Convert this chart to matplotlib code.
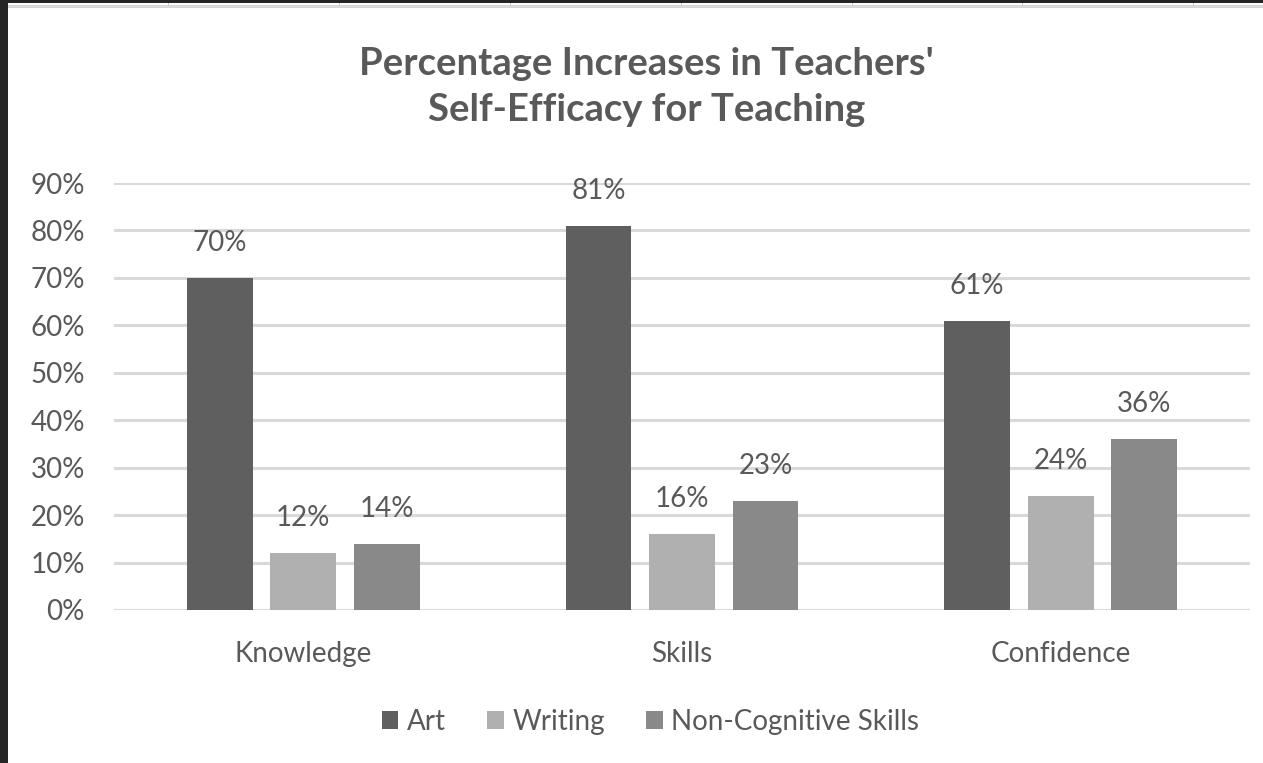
import numpy as np
import matplotlib.pyplot as plt
from matplotlib.patches import Rectangle
from matplotlib.ticker import PercentFormatter

plt.rcParams['font.family'] = ['Lato', 'DejaVu Sans']

categories = ['Knowledge', 'Skills', 'Confidence']
series_names = ['Art', 'Writing', 'Non-Cognitive Skills']
art = [70, 81, 61]
writing = [12, 16, 24]
non_cognitive = [14, 23, 36]
y_ticks = [0, 10, 20, 30, 40, 50, 60, 70, 80, 90]

colors = ['#5f5f5f', '#b0b0b0', '#898989']
text_gray = '#595959'

W, H = 1263, 763
fig = plt.figure(figsize=(W / 100, H / 100), dpi=100)
fig.patch.set_facecolor('white')

# spreadsheet window edge around the chart
fig.patches.append(Rectangle((0, 0), 8 / W, 1, transform=fig.transFigure,
                             facecolor='#262626', edgecolor='none', zorder=0))
fig.patches.append(Rectangle((0, 1 - 3 / H), 1, 3 / H, transform=fig.transFigure,
                             facecolor='#262626', edgecolor='none', zorder=0))
fig.patches.append(Rectangle((8 / W, 1 - 8 / H), 1, 3 / H, transform=fig.transFigure,
                             facecolor='#d9d9d9', edgecolor='none', zorder=0))
for cx in [168, 339, 510, 681, 852, 1022, 1193]:
    fig.patches.append(Rectangle((cx / W, 1 - 6 / H), 1 / W, 3 / H, transform=fig.transFigure,
                                 facecolor='#c8c8c8', edgecolor='none', zorder=0))

ax = fig.add_axes([114 / W, 1 - 610 / H, (1250 - 114) / W, (610 - 183) / H])

x = np.arange(len(categories))
step = 0.2205
width = 0.174
for i, (vals, name) in enumerate(zip([art, writing, non_cognitive], series_names)):
    pos = x + (i - 1) * step
    bars = ax.bar(pos, vals, width=width, color=colors[i], label=name, zorder=3)
    for b, v in zip(bars, vals):
        ax.annotate(f'{v}%', (b.get_x() + b.get_width() / 2, v),
                    xytext=(0, 25), textcoords='offset points',
                    ha='center', va='center', fontsize=20, color=text_gray)

ax.set_xlim(-0.5, 2.5)
ax.set_ylim(0, 90)
ax.set_yticks(y_ticks)
ax.yaxis.set_major_formatter(PercentFormatter(decimals=0))
ax.grid(axis='y', color='#d9d9d9', linewidth=2.2, zorder=0)
for s in ax.spines.values():
    s.set_visible(False)
ax.tick_params(axis='both', length=0, labelsize=20, labelcolor=text_gray)
ax.tick_params(axis='y', pad=21)
ax.tick_params(axis='x', pad=22)
ax.set_xticks(x)
ax.set_xticklabels(categories)

fig.text(0.512, 1 - 87 / H, "Percentage Increases in Teachers'\nSelf-Efficacy for Teaching",
         ha='center', va='center', fontsize=27.5, fontweight='bold', color=text_gray,
         linespacing=1.45)

fig.legend(loc='center', bbox_to_anchor=(0.515, 1 - 722 / H), ncol=3, frameon=False,
           fontsize=20, labelcolor=text_gray, handlelength=0.6, handleheight=0.6,
           handletextpad=0.3, columnspacing=1.5)

fig.savefig('out.png', dpi=100)
